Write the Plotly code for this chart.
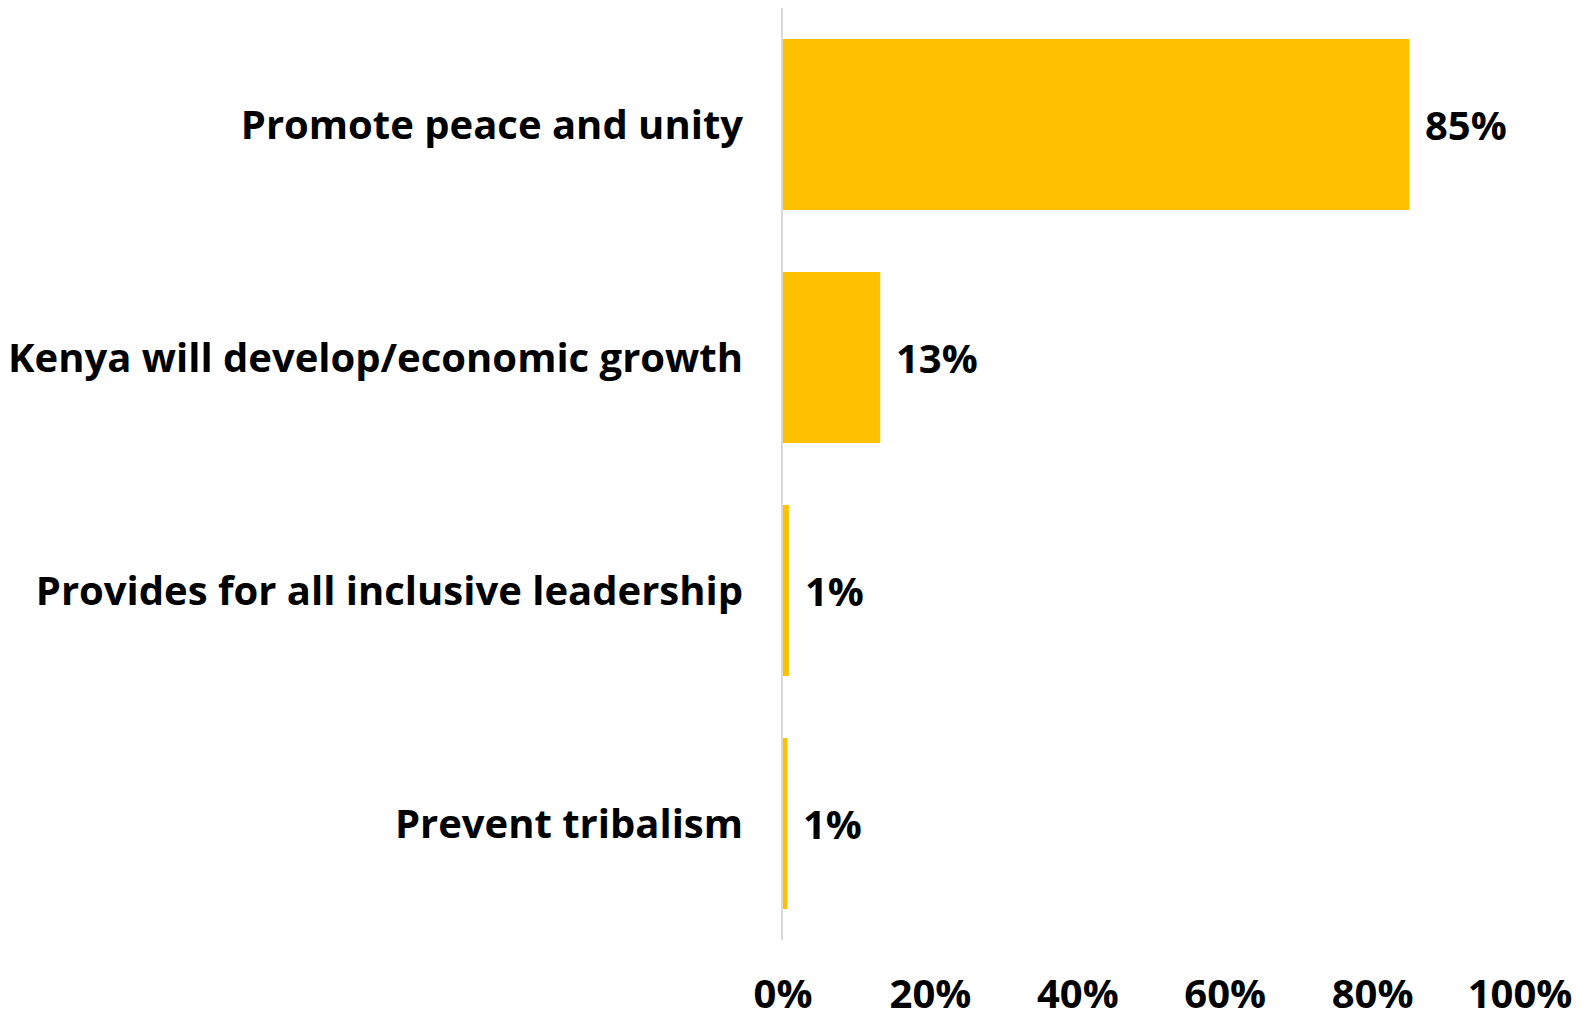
import plotly.graph_objects as go

categories = ["Promote peace and unity", "Kenya will develop/economic growth",
              "Provides for all inclusive leadership", "Prevent tribalism"]
values = [85, 13.2, 0.8, 0.6]
labels = ["85%", "13%", "1%", "1%"]
tick_vals = [0, 20, 40, 60, 80, 100]
tick_text = ["0%", "20%", "40%", "60%", "80%", "100%"]

FONT = "Open Sans"
FS = 40
fig = go.Figure()
fig.add_trace(go.Bar(
    x=values, y=categories, orientation="h",
    marker=dict(color="#FFC000", line=dict(width=0)),
    width=0.734, hoverinfo="skip",
))
for v, c, t in zip(values, categories, labels):
    fig.add_annotation(x=v, y=c, text=t, showarrow=False, xanchor="left",
                       xshift=14, font=dict(family=FONT, size=FS, color="#000000"))

fig.update_layout(
    width=1577, height=1002,
    margin=dict(l=775, r=65, t=0, b=70),
    plot_bgcolor="white", paper_bgcolor="white",
    showlegend=False,
    font=dict(family=FONT, size=FS, color="#000000"),
)
fig.update_xaxes(range=[0, 100], tickvals=tick_vals, ticktext=tick_text,
                 showgrid=False, zeroline=False, showline=False, ticks="",
                 ticklabelstandoff=27, automargin=False,
                 tickfont=dict(family=FONT, size=FS, color="#000000", weight="bold"))
fig.update_yaxes(autorange="reversed", showgrid=False, zeroline=False,
                 showline=True, linecolor="#D9D9D9", linewidth=2, ticks="",
                 ticklabelstandoff=30, automargin=False,
                 tickfont=dict(family=FONT, size=FS, color="#000000", weight="bold"))
fig.update_annotations(font_weight="bold")
fig.write_html("out.html")
